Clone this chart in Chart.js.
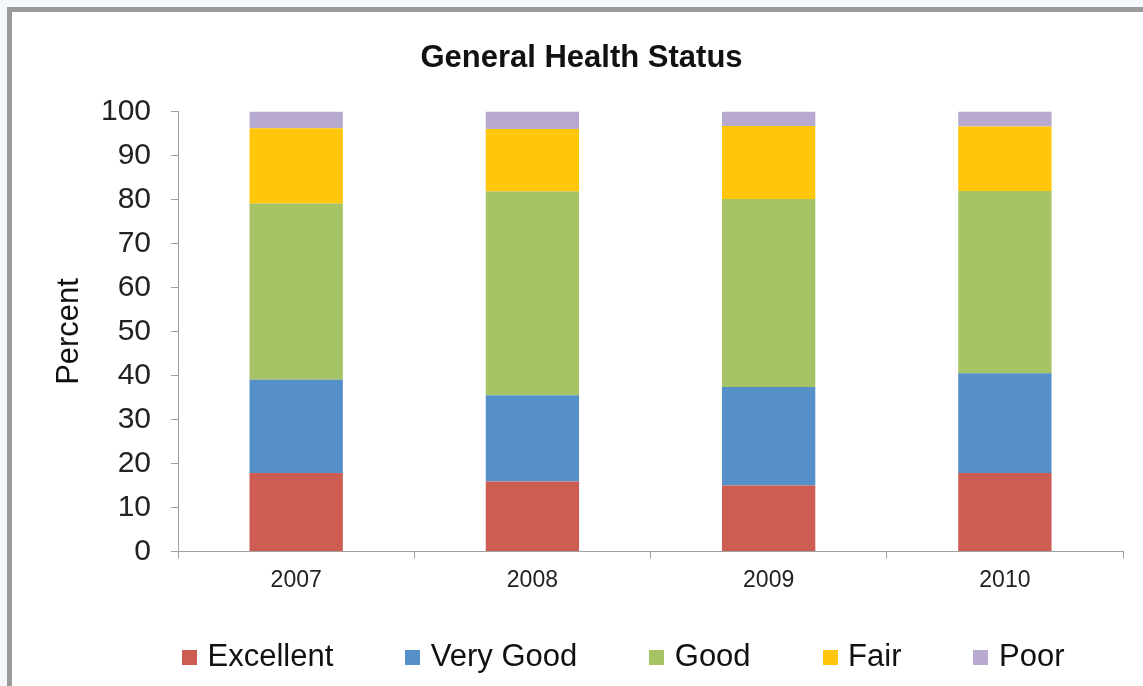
<!DOCTYPE html>
<html>
<head>
<meta charset="utf-8">
<script src="https://cdn.jsdelivr.net/npm/chart.js@4"></script>
<style>
  html, body { margin: 0; padding: 0; width: 1143px; height: 686px; overflow: hidden; background: #f4f7fb; }
  #frame { position: absolute; left: 7px; top: 7px; width: 1200px; height: 720px; background: #ffffff;
           border-left: 5px solid #9b9b9b; border-top: 5px solid #9b9b9b; }
  #wrap { position: absolute; left: 0; top: 0; width: 1143px; height: 686px; }
</style>
</head>
<body>
<div id="frame"></div>
<div id="wrap"><canvas id="c"></canvas></div>
<script>
const categories = ['2007', '2008', '2009', '2010'];
const seriesNames = ['Excellent', 'Very Good', 'Good', 'Fair', 'Poor'];
const excellent = [17.8, 15.9, 15.0, 17.8];
const veryGood  = [21.2, 19.6, 22.4, 22.7];
const good      = [40.1, 46.3, 42.7, 41.4];
const fair      = [17.1, 14.2, 16.6, 14.7];
const poor      = [3.8, 4.0, 3.3, 3.4];
const yTicks = [0, 10, 20, 30, 40, 50, 60, 70, 80, 90, 100];

const colors = ['#cd5c53', '#5690c9', '#a6c365', '#ffc60a', '#b7a9d0'];
const seriesValues = [excellent, veryGood, good, fair, poor];

const FONT = "'Liberation Sans', Arial, Helvetica, sans-serif";

function swatch(color) {
  const c = document.createElement('canvas');
  c.width = 15; c.height = 15;
  const x = c.getContext('2d');
  x.fillStyle = color;
  x.fillRect(0, 0, 15, 15);
  return c;
}
const swatches = colors.map(swatch);

const LEGEND_PAD = 77;
const legendPlace = {
  id: 'legendPlace',
  afterLayout(chart) {
    const lg = chart.legend;
    if (!lg) return;
    lg.top = 657 - 15.5 - LEGEND_PAD;
    lg.bottom = 686;
    lg.height = lg.bottom - lg.top;
    lg.left = 187 - LEGEND_PAD;
    lg.right = lg.left + 1100;
    lg.width = lg.right - lg.left;
  }
};

new Chart(document.getElementById('c'), {
  type: 'bar',
  data: {
    labels: categories,
    datasets: seriesNames.map((name, i) => ({
      label: name,
      data: seriesValues[i],
      backgroundColor: colors[i],
      borderWidth: 0,
      barPercentage: 0.395,
      categoryPercentage: 1.0
    }))
  },
  plugins: [legendPlace],
  options: {
    responsive: true,
    maintainAspectRatio: false,
    animation: false,
    layout: { padding: { left: 40, right: 20, top: 0, bottom: 0 } },
    plugins: {
      tooltip: { enabled: false },
      title: {
        display: true,
        text: 'General Health Status',
        color: '#111111',
        font: { family: FONT, size: 31, weight: 'bold' },
        padding: { top: 39.4, bottom: 34.9 }
      },
      legend: {
        position: 'bottom',
        align: 'start',
        maxHeight: 84,
        labels: {
          color: '#111111',
          font: { family: FONT, size: 31 },
          usePointStyle: true,
          pointStyleWidth: 5,
          padding: LEGEND_PAD,
          generateLabels(chart) {
            const items = Chart.defaults.plugins.legend.labels.generateLabels(chart);
            items.forEach((it) => { it.pointStyle = swatches[it.datasetIndex]; });
            return items;
          }
        }
      }
    },
    scales: {
      x: {
        stacked: true,
        grid: { display: true, drawOnChartArea: false, drawTicks: true, tickLength: 7, color: '#a0a0a0', offset: true },
        border: { display: true, color: '#a0a0a0', width: 1 },
        ticks: { color: '#222222', font: { family: FONT, size: 23 }, padding: 8, maxRotation: 0 }
      },
      y: {
        stacked: true,
        min: 0,
        max: 100,
        afterBuildTicks(scale) { scale.ticks = yTicks.map(v => ({ value: v })); },
        grid: { display: true, drawOnChartArea: false, drawTicks: true, tickLength: 7, color: '#a0a0a0' },
        border: { display: true, color: '#a0a0a0', width: 1 },
        ticks: { color: '#222222', font: { family: FONT, size: 30 }, padding: 20 },
        title: {
          display: true,
          text: 'Percent',
          color: '#111111',
          font: { family: FONT, size: 31 },
          padding: { top: 11, bottom: -7.2 }
        }
      }
    }
  }
});
</script>
</body>
</html>
